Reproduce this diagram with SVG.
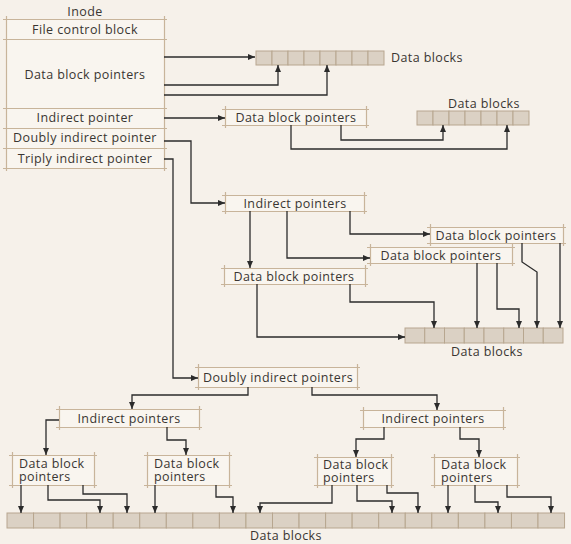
<svg xmlns="http://www.w3.org/2000/svg" width="571" height="544" viewBox="0 0 571 544">
<defs>
<marker id="ah" markerUnits="userSpaceOnUse" markerWidth="8" markerHeight="6" refX="7" refY="3" orient="auto">
<path d="M0,0 L7,3 L0,6 Z" fill="#2b2b2b"/>
</marker>
<style>
text{font-family:"Open Sans","Noto Sans","Liberation Sans",sans-serif;font-size:12.5px;letter-spacing:0.4px;fill:#3a3632}
.c{text-anchor:middle}
.frame{fill:#f9f5ef;stroke:none}
.edge{fill:none;stroke:#c8b49a;stroke-width:1.2}
.cell{fill:#dbd1c4;stroke:#b7a68f;stroke-width:1}
.conn path{fill:none;stroke:#2b2b2b;stroke-width:1.3;marker-end:url(#ah)}
</style>
</defs>
<rect width="571" height="544" fill="#f6f1ea"/>

<g id="inode">
<text class="c" x="85" y="16">Inode</text>
<rect class="frame" x="6" y="19" width="158" height="149"/>
<path class="edge" d="M3 19.5H167M3 39.5H167M3 108.5H167M3 128.5H167M3 148.5H167M3 168.5H167M6.5 16V171M164.5 16V171"/>
<text class="c" x="85" y="34">File control block</text>
<text class="c" x="85" y="79">Data block pointers</text>
<text class="c" x="85" y="122">Indirect pointer</text>
<text class="c" x="85" y="142">Doubly indirect pointer</text>
<text class="c" x="85" y="163">Triply indirect pointer</text>
</g>

<g id="data-top">
<rect class="cell" x="256" y="51" width="16" height="14"/><rect class="cell" x="272" y="51" width="16" height="14"/><rect class="cell" x="288" y="51" width="16" height="14"/><rect class="cell" x="304" y="51" width="16" height="14"/><rect class="cell" x="320" y="51" width="16" height="14"/><rect class="cell" x="336" y="51" width="16" height="14"/><rect class="cell" x="352" y="51" width="16" height="14"/><rect class="cell" x="368" y="51" width="16" height="14"/>
<text x="391" y="62">Data blocks</text>
</g>

<g id="dbp-1">
<rect class="frame" x="225" y="109" width="141" height="16"/>
<path class="edge" d="M222 109.5H369M222 125.5H369M225.5 106V128M366.5 106V128"/>
<text class="c" x="296" y="121.5">Data block pointers</text>
</g>

<g id="data-2">
<rect class="cell" x="417" y="111" width="16" height="14"/><rect class="cell" x="433" y="111" width="16" height="14"/><rect class="cell" x="449" y="111" width="16" height="14"/><rect class="cell" x="465" y="111" width="16" height="14"/><rect class="cell" x="481" y="111" width="16" height="14"/><rect class="cell" x="497" y="111" width="16" height="14"/><rect class="cell" x="513" y="111" width="16" height="14"/>
<text class="c" x="484" y="108">Data blocks</text>
</g>

<g id="ip-mid">
<rect class="frame" x="225" y="195" width="139" height="16"/>
<path class="edge" d="M222 195.5H367M222 211.5H367M225.5 192V214M364.5 192V214"/>
<text class="c" x="295" y="207.5">Indirect pointers</text>
</g>

<g id="dbp-a">
<rect class="frame" x="224" y="268" width="141" height="16"/>
<path class="edge" d="M221 268.5H368M221 284.5H368M224.5 265V287M365.5 265V287"/>
<text class="c" x="294" y="280.5">Data block pointers</text>
</g>

<g id="dbp-b">
<rect class="frame" x="370" y="247" width="142" height="16"/>
<path class="edge" d="M367 247.5H515M367 263.5H515M370.5 244V266M512.5 244V266"/>
<text class="c" x="441" y="259.5">Data block pointers</text>
</g>

<g id="dbp-c">
<rect class="frame" x="430" y="227" width="133" height="16"/>
<path class="edge" d="M427 227.5H566M427 243.5H566M430.5 224V246M563.5 224V246"/>
<text class="c" x="496" y="239.5">Data block pointers</text>
</g>

<g id="data-mid">
<rect class="cell" x="405" y="328" width="19.75" height="15"/><rect class="cell" x="424.75" y="328" width="19.75" height="15"/><rect class="cell" x="444.5" y="328" width="19.75" height="15"/><rect class="cell" x="464.25" y="328" width="19.75" height="15"/><rect class="cell" x="484" y="328" width="19.75" height="15"/><rect class="cell" x="503.75" y="328" width="19.75" height="15"/><rect class="cell" x="523.5" y="328" width="19.75" height="15"/><rect class="cell" x="543.25" y="328" width="19.75" height="15"/>
<text class="c" x="487" y="356">Data blocks</text>
</g>

<g id="dip">
<rect class="frame" x="198" y="367" width="159" height="20"/>
<path class="edge" d="M195 367.5H360M195 387.5H360M198.5 364V390M357.5 364V390"/>
<text class="c" x="278" y="381.5">Doubly indirect pointers</text>
</g>

<g id="ip-left">
<rect class="frame" x="59" y="409" width="140" height="18"/>
<path class="edge" d="M56 409.5H202M56 427.5H202M59.5 406V430M199.5 406V430"/>
<text class="c" x="129" y="422.5">Indirect pointers</text>
</g>

<g id="ip-right">
<rect class="frame" x="363" y="410" width="140" height="17"/>
<path class="edge" d="M360 410.5H506M360 427.5H506M363.5 407V430M503.5 407V430"/>
<text class="c" x="433" y="422.5">Indirect pointers</text>
</g>

<g id="dbp-l1">
<rect class="frame" x="12" y="455" width="82" height="30"/>
<path class="edge" d="M9 455.5H97M9 485.5H97M12.5 452V488M94.5 452V488"/>
<text><tspan x="19" y="468">Data block</tspan><tspan x="19" y="481">pointers</tspan></text>
</g>

<g id="dbp-l2">
<rect class="frame" x="147" y="455" width="82" height="30"/>
<path class="edge" d="M144 455.5H232M144 485.5H232M147.5 452V488M229.5 452V488"/>
<text><tspan x="154" y="468">Data block</tspan><tspan x="154" y="481">pointers</tspan></text>
</g>

<g id="dbp-r1">
<rect class="frame" x="317" y="457" width="74" height="28"/>
<path class="edge" d="M314 457.5H394M314 485.5H394M317.5 454V488M391.5 454V488"/>
<text><tspan x="323" y="469">Data block</tspan><tspan x="323" y="482">pointers</tspan></text>
</g>

<g id="dbp-r2">
<rect class="frame" x="434" y="457" width="83" height="28"/>
<path class="edge" d="M431 457.5H520M431 485.5H520M434.5 454V488M517.5 454V488"/>
<text><tspan x="441" y="469">Data block</tspan><tspan x="441" y="482">pointers</tspan></text>
</g>

<g id="data-bottom">
<rect class="cell" x="7" y="513" width="26.55" height="15"/><rect class="cell" x="33.55" y="513" width="26.55" height="15"/><rect class="cell" x="60.1" y="513" width="26.55" height="15"/><rect class="cell" x="86.65" y="513" width="26.55" height="15"/><rect class="cell" x="113.2" y="513" width="26.55" height="15"/><rect class="cell" x="139.75" y="513" width="26.55" height="15"/><rect class="cell" x="166.3" y="513" width="26.55" height="15"/><rect class="cell" x="192.85" y="513" width="26.55" height="15"/><rect class="cell" x="219.4" y="513" width="26.55" height="15"/><rect class="cell" x="245.95" y="513" width="26.55" height="15"/><rect class="cell" x="272.5" y="513" width="26.55" height="15"/><rect class="cell" x="299.05" y="513" width="26.55" height="15"/><rect class="cell" x="325.6" y="513" width="26.55" height="15"/><rect class="cell" x="352.15" y="513" width="26.55" height="15"/><rect class="cell" x="378.7" y="513" width="26.55" height="15"/><rect class="cell" x="405.25" y="513" width="26.55" height="15"/><rect class="cell" x="431.8" y="513" width="26.55" height="15"/><rect class="cell" x="458.35" y="513" width="26.55" height="15"/><rect class="cell" x="484.9" y="513" width="26.55" height="15"/><rect class="cell" x="511.45" y="513" width="26.55" height="15"/><rect class="cell" x="538" y="513" width="26.55" height="15"/>
<text class="c" x="286" y="540">Data blocks</text>
</g>

<g id="connectors" class="conn">
<path d="M164 57H255"/>
<path d="M164 85H278V65"/>
<path d="M164 95H327V65"/>
<path d="M164 118H225"/>
<path d="M291 125V149H507V125"/>
<path d="M341 125V140H443V125"/>
<path d="M164 141H191V203H225"/>
<path d="M164 159H173V378H198"/>
<path d="M250 211V268"/>
<path d="M287 211V258H370"/>
<path d="M350 211V234H430"/>
<path d="M257 284V337H405"/>
<path d="M350 284V302H434V328"/>
<path d="M477 263V328"/>
<path d="M497 263V309H519V328"/>
<path d="M522 243V262L537 272V328"/>
<path d="M560 243V328"/>
<path d="M248 387V395H132V409"/>
<path d="M312 387V395H437V410"/>
<path d="M59 420H46V455"/>
<path d="M167 427V440H186V455"/>
<path d="M384 427V439H356V457"/>
<path d="M460 427V439H479V457"/>
<path d="M21 485V513"/>
<path d="M48 485V500H100V513"/>
<path d="M83 485V494H127V513"/>
<path d="M155 485V513"/>
<path d="M216 485V497H233V513"/>
<path d="M332 485V503H260V513"/>
<path d="M357 485V501H392V513"/>
<path d="M387 485V493H418V513"/>
<path d="M448 485V513"/>
<path d="M475 485V502H498V513"/>
<path d="M507 485V497H551V513"/>
</g>
</svg>
